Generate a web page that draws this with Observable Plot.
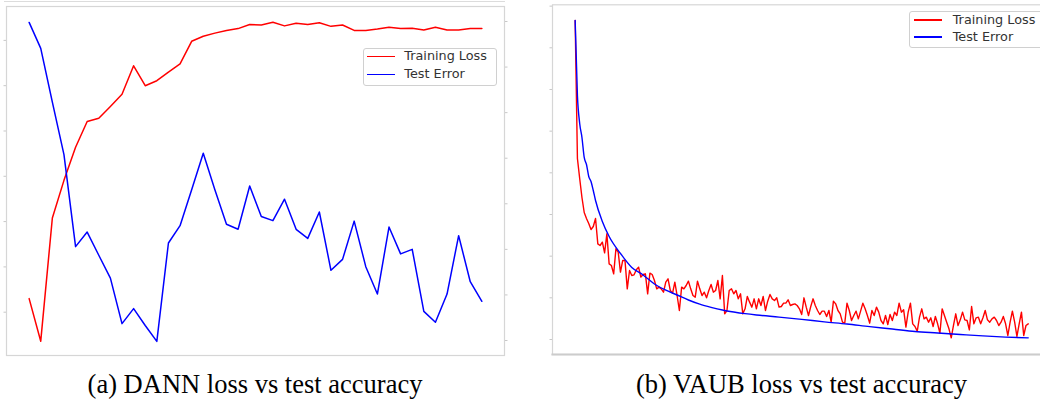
<!DOCTYPE html>
<html><head><meta charset="utf-8">
<script src="https://cdn.jsdelivr.net/npm/d3@7"></script>
<script src="https://cdn.jsdelivr.net/npm/@observablehq/plot@0.6"></script>
<style>
html,body{margin:0;padding:0;background:#fff;}
#root{position:relative;width:1040px;height:404px;overflow:hidden;font-family:"DejaVu Sans",sans-serif;}
.layer{position:absolute;top:0;}
.legend{position:absolute;background:#fff;border:1px solid #d0d0d0;border-radius:3px;box-sizing:border-box;}
.li{position:absolute;font-size:12.8px;line-height:14px;color:#333;white-space:nowrap;}
.sw{position:absolute;height:1.5px;}
.cap{position:absolute;font-family:"Liberation Serif",serif;font-size:26.5px;line-height:26px;white-space:nowrap;transform:translateX(-50%) scaleY(1.05);color:#000;}
.topline{position:absolute;border-top:1px solid #dcdcdc;}
</style></head><body><div id="root"></div>
<script>
// ---- (a) DANN: 40 epochs, red on left axis, blue on right axis (arbitrary units)
const dannLoss = [0.30,-0.64,2.08,2.91,3.64,4.21,4.28,4.54,4.81,5.44,
  5.00,5.11,5.30,5.48,5.98,6.09,6.16,6.22,6.26,6.35,
  6.34,6.40,6.32,6.38,6.35,6.39,6.31,6.34,6.22,6.22,
  6.25,6.29,6.26,6.27,6.23,6.29,6.23,6.23,6.26,6.26];
const dannErr = [6.98,6.41,5.23,4.08,2.06,2.38,1.87,1.37,0.37,0.70,
  0.33,-0.02,2.14,2.52,3.31,4.11,3.31,2.55,2.44,3.39,
  2.72,2.63,3.10,2.44,2.24,2.82,1.54,1.78,2.62,1.62,
  1.02,2.49,1.90,2.00,0.64,0.40,1.02,2.30,1.29,0.86];
const dannLeftTicks = [0,1,2,3,4,5,6];
const dannRightTicks = [0,1,2,3,4,5,6,7];

// ---- (b) VAUB: 201 epochs
const vaubLoss = [38.28,21.72,19.32,17.04,15.24,14.52,13.92,13.2,13.56,14.52,
  11.48,11.28,11.68,10.40,12.68,9.08,8.88,7.88,10.88,10.48,
  8.08,9.48,9.48,6.08,8.28,7.68,7.76,8.36,8.68,7.48,
  7.8,7.88,5.48,7.96,7.8,7.08,6.08,6.28,6.08,5.68,
  6.88,7.28,5.88,5.56,6.88,5.28,3.48,6.28,6.08,6.48,
  7.0,6.08,5.28,5.08,7.0,6.08,5.28,5.68,5.0,5.88,
  6.6,5.68,5.88,7.08,4.88,7.68,3.08,3.48,5.88,6.08,
  5.48,5.88,4.88,5.48,3.08,3.68,5.16,4.48,3.88,4.88,
  3.68,4.88,4.08,5.16,3.48,4.6,5.4,4.88,4.68,5.0,
  3.88,3.96,4.36,4.36,
  4.76,4.08,4.2,4.28,4.08,3.68,3.0,5.0,3.88,2.88,
  3.96,4.88,4.08,3.48,3.0,3.4,3.4,2.76,3.48,2.08,
  4.6,4.28,3.48,3.08,2.08,1.96,4.36,3.48,2.28,2.88,
  3.4,2.48,3.4,4.36,3.68,2.88,1.96,3.48,2.88,3.88,
  3.28,2.28,1.88,2.88,1.8,3.0,2.28,3.28,2.88,4.36,
  3.28,3.56,1.48,3.28,4.36,1.88,1.56,1.0,2.68,3.68,
  2.48,2.68,2.08,2.6,1.56,2.76,1.88,0.76,3.68,2.88,
  2.08,1.28,0.2,1.68,3.08,1.68,2.36,3.28,2.36,2.28,
  1.16,3.96,1.88,2.6,2.68,1.88,2.6,3.48,2.36,2.08,
  2.48,2.68,2.28,1.68,2.08,2.76,1.88,0.48,2.08,3.4,
  2.08,0.36,1.88,3.28,0.48,1.68,1.88];
const vaubErrEpochs = [0,1,2,3,4,5,6,7,8,9,12,15,20,25,30,35,40,45,50,55,60,65,70,75,80,90,100,110,120,130,140,150,160,170,180,190,200];
const vaubErr = [38.28,29.28,25.92,24.24,21.84,21.0,19.56,18.96,17.88,16.68,14.16,12.36,10.32,8.64,7.74,6.66,5.92,5.34,4.74,4.24,3.86,3.54,3.3,3.10,2.94,2.69,2.42,2.12,1.86,1.54,1.26,0.96,0.78,0.6,0.43,0.29,0.2];
const vaubTicks = [0,5,10,15,20,25,30,35,40];

const seriesNames = ["Training Loss","Test Error"];
const seriesColors = ["#ff0000","#0000ff"];
const captions = ["(a) DANN loss vs test accuracy","(b) VAUB loss vs test accuracy"];

const root = document.getElementById("root");
const blankFmt = () => "";

function place(el, left){ el.classList.add("layer"); el.style.left = left+"px"; root.appendChild(el); }

const dannLossData = dannLoss.map((v,i)=>({epoch:i+1, v}));
const dannErrData = dannErr.map((v,i)=>({epoch:i+1, v}));
const leftBox = {width:520, height:360, marginLeft:6, marginRight:16, marginTop:6, marginBottom:5};
const dannX = {domain:[-0.95,41.95], axis:null};

place(Plot.plot({...leftBox, x:dannX, y:{domain:[-0.956,6.748], axis:null},
  marks:[
    Plot.frame({stroke:"#d6d6d6", strokeWidth:1.2}),
    Plot.axisY({anchor:"left", ticks:dannLeftTicks, tickSize:2.5, tickFormat:blankFmt, label:null, stroke:"#c8c8c8"}),
    Plot.line(dannLossData, {x:"epoch", y:"v", stroke:seriesColors[0], strokeWidth:1.5})
  ]}), 0);
const over = Plot.plot({...leftBox, x:dannX, y:{domain:[-0.329,7.329], axis:null},
  style:{background:"transparent"},
  marks:[
    Plot.axisY({anchor:"right", ticks:dannRightTicks, tickSize:2.5, tickFormat:blankFmt, label:null, stroke:"#c8c8c8"}),
    Plot.line(dannErrData, {x:"epoch", y:"v", stroke:seriesColors[1], strokeWidth:1.5})
  ]});
place(over, 0);

const vaubLossData = vaubLoss.map((v,i)=>({epoch:i, v}));
const vaubErrData = vaubErrEpochs.map((e,i)=>({epoch:e, v:vaubErr[i]}));
place(Plot.plot({width:520, height:360, marginLeft:12, marginRight:9.6, marginTop:4.3, marginBottom:6,
  x:{domain:[-10,210], axis:null}, y:{domain:[-1.8,40.16], axis:null},
  marks:[
    Plot.frame({stroke:"#d6d6d6", strokeWidth:1.2}),
    Plot.frame({anchor:"bottom", stroke:"#cccccc", strokeWidth:2.2}),
    Plot.axisY({anchor:"left", ticks:vaubTicks, tickSize:2.5, tickFormat:blankFmt, label:null, stroke:"#c8c8c8"}),
    Plot.line(vaubLossData, {x:"epoch", y:"v", stroke:seriesColors[0], strokeWidth:1.4}),
    Plot.line(vaubErrData, {x:"epoch", y:"v", stroke:seriesColors[1], strokeWidth:1.4, curve:"monotone-x"})
  ]}), 540);

// outer top line of left image
const tl = document.createElement("div"); tl.className="topline";
tl.style.cssText += "left:4px;top:1px;width:501px;"; root.appendChild(tl);

function legend(left, top, width, height, sw0, sw1, tx, y0, y1){
  const box = document.createElement("div"); box.className="legend";
  box.style.left=left+"px"; box.style.top=top+"px"; box.style.width=width+"px"; box.style.height=height+"px";
  root.appendChild(box);
  [y0,y1].forEach((y,k)=>{
    const s=document.createElement("div"); s.className="sw";
    s.style.left=sw0+"px"; s.style.width=(sw1-sw0)+"px"; s.style.top=(y-0.75)+"px"; s.style.background=seriesColors[k];
    root.appendChild(s);
    const t=document.createElement("div"); t.className="li"; t.textContent=seriesNames[k];
    t.style.left=tx+"px"; t.style.top=(y-7.5)+"px"; root.appendChild(t);
  });
}
legend(362.7, 47.7, 134, 38, 366.7, 395, 404.3, 56.7, 74.7);
legend(909, 10.7, 140, 37.3, 914, 942, 952.7, 20, 37);

[[255, captions[0]],[801.5, captions[1]]].forEach(([cx,txt])=>{
  const c=document.createElement("div"); c.className="cap"; c.textContent=txt;
  c.style.left=cx+"px"; c.style.top="371px"; root.appendChild(c);
});
</script></body></html>
